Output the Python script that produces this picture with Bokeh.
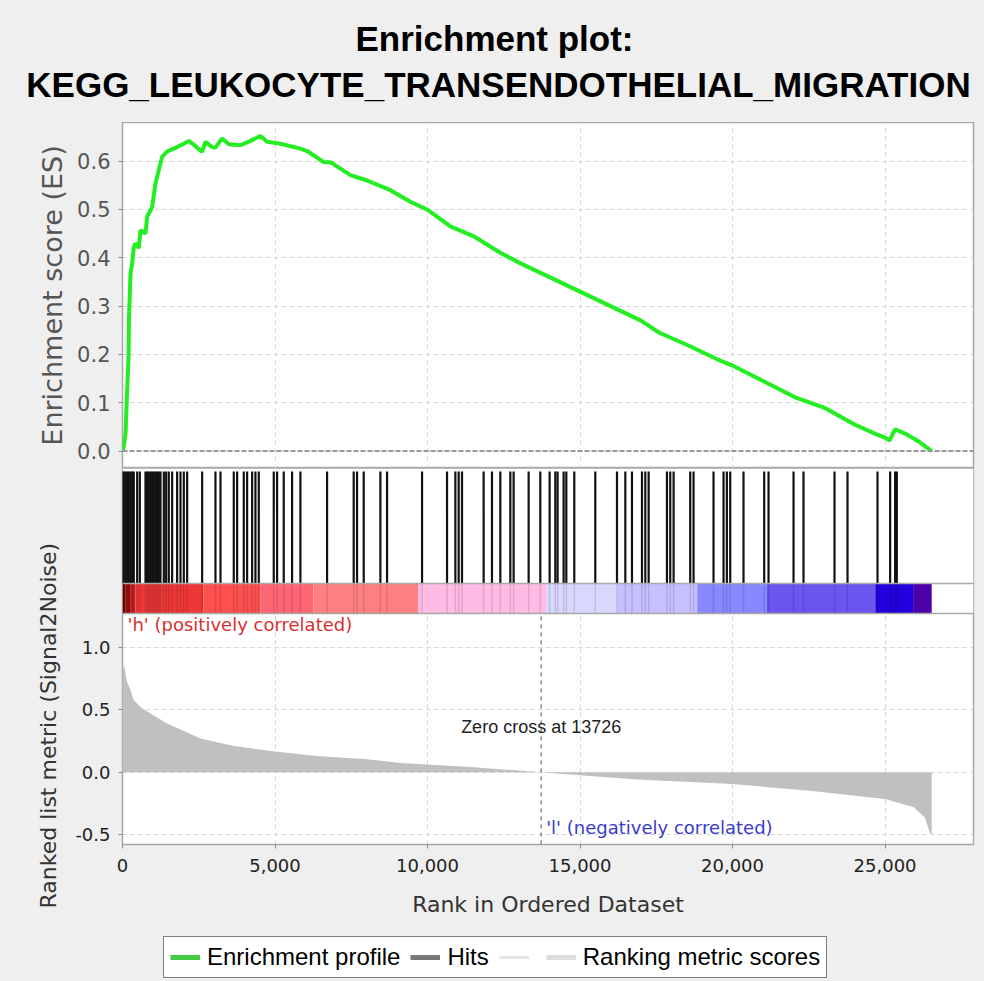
from bokeh.plotting import figure
from bokeh.models import (Span, Label, Title, Legend, LegendItem, NumeralTickFormatter,
                          FixedTicker, Range1d)
from bokeh.layouts import column
from bokeh.embed import file_html
from bokeh.resources import INLINE

# ---------------- data ----------------
N_GENES = 26530
ZERO_CROSS = 13726
X_MAX = 27900
GENE_SET = "KEGG_LEUKOCYTE_TRANSENDOTHELIAL_MIGRATION"

es_rank = [0, 43, 100, 131, 200, 210, 262, 317, 371, 426, 535, 590, 754, 808, 972,
           1081, 1190, 1300, 1463, 1681, 2010, 2174, 2392, 2611, 2720, 2939, 3048,
           3267, 3485, 3867, 4195, 4523, 4742, 5178, 5833, 6052, 6598, 6816, 7472,
           8018, 8782, 9437, 9985, 10750, 11500, 12400, 13000, 14000, 15000, 16000,
           17000, 17600, 18500, 19500, 20000, 21000, 22100, 23000, 24000, 24700,
           25000, 25150, 25330, 25700, 26100, 26530]
es_value = [0.0, 0.01, 0.036, 0.091, 0.20, 0.27, 0.367, 0.388, 0.422, 0.43, 0.42,
            0.457, 0.45, 0.485, 0.505, 0.554, 0.581, 0.609, 0.62, 0.626, 0.636,
            0.642, 0.631, 0.619, 0.64, 0.629, 0.628, 0.647, 0.635, 0.633, 0.642,
            0.652, 0.64, 0.636, 0.626, 0.621, 0.598, 0.598, 0.571, 0.56, 0.54,
            0.516, 0.5, 0.465, 0.445, 0.41, 0.39, 0.36, 0.33, 0.30, 0.27, 0.245,
            0.22, 0.19, 0.177, 0.145, 0.11, 0.09, 0.055, 0.035, 0.028, 0.022,
            0.045, 0.035, 0.02, 0.0]

hit_rank = [10, 43, 98, 153, 207, 262, 317, 370, 481, 568, 754, 808, 863, 918, 972,
            1027, 1081, 1136, 1191, 1245, 1355, 1431, 1518, 1627, 1791, 1901, 2010,
            2119, 2611, 3048, 3212, 3648, 3758, 3976, 4086, 4250, 4358, 4468, 4959,
            5068, 5286, 5560, 5833, 6707, 7580, 7690, 7908, 8455, 8673, 9821, 10640,
            10913, 11022, 11131, 11840, 12113, 12387, 12715, 12823, 13315, 13698,
            14003, 14190, 14265, 14462, 14550, 14812, 15500, 16212, 16485, 16703,
            17031, 17140, 17250, 17850, 17958, 18068, 18613, 18722, 19377, 19705,
            19814, 19924, 20360, 21038, 21180, 22000, 22327, 23343, 23770, 24753,
            25167, 25331, 25386]

metric_rank = [0, 60, 150, 262, 360, 600, 918, 1463, 2556, 3650, 5000, 6380, 8020,
               9110, 11300, 13726, 15195, 17024, 20000, 22524, 25000, 25940, 26300,
               26480, 26530]
metric_value = [0.86, 0.84, 0.72, 0.66, 0.58, 0.52, 0.47, 0.39, 0.27, 0.21, 0.167,
                0.13, 0.105, 0.075, 0.045, 0.0, -0.027, -0.06, -0.094, -0.147,
                -0.214, -0.28, -0.36, -0.49, -0.5]

bar_start = [0, 100, 250, 430, 2650, 4520, 6260, 9700, 13900, 16220, 18840, 21130,
             24680, 25920]
bar_end = [100, 250, 430, 2650, 4520, 6260, 9700, 13900, 16220, 18840, 21130, 24680,
           25920, 26530]
bar_color = ["#7a0000", "#a01010", "#cc2020", "#ee3838", "#ff5050", "#ff6673",
             "#ff8080", "#ffbbe4", "#d8d8ff", "#c6c0ff", "#8888ff", "#6a55ee",
             "#2200dd", "#4b00aa"]

x_ticks = [0, 5000, 10000, 15000, 20000, 25000]
es_ticks = [0.0, 0.1, 0.2, 0.3, 0.4, 0.5, 0.6]
metric_ticks = [-0.5, 0.0, 0.5, 1.0]

legend_labels = ["Enrichment profile", "Hits", "", "Ranking metric scores"]
legend_colors = ["#44cc44", "#777777", "#e4e4e4", "#dddddd"]

# ---------------- layout constants ----------------
BG = "#efefef"
FONT = "DejaVu Sans"
AFONT = "Liberation Sans"
GRID = "#d2d2d2"
FRAME = "#a8a8a8"
W = 984
FW = 851
LEFT = 122
RIGHT = 11
TITLE_PX = 122
ES_PX = 346
HITS_PX = 145
METRIC_PX = 231
AXIS_PX = 86
LEGEND_PX = 51
BAR_TOP = 0.207      # colour bar share of the hits panel
ES_LO, ES_HI = -0.036, 0.68
METRIC_LO, METRIC_HI = -0.577, 1.27

xr = Range1d(0, X_MAX)


def blank_fig(fw, fh, left=0):
    p = figure(frame_width=fw, frame_height=fh, x_range=Range1d(0, fw),
               y_range=Range1d(0, fh), x_axis_location=None, y_axis_location=None,
               output_backend="svg", toolbar_location=None, min_border_left=left,
               min_border_right=0, min_border_top=0, min_border_bottom=0,
               border_fill_color=BG, background_fill_color=BG, outline_line_color=None)
    p.xgrid.visible = False
    p.ygrid.visible = False
    p.frame_align = False
    return p


def style_axis(ax, size, color):
    ax.major_label_text_font = FONT
    ax.major_label_text_font_size = size
    ax.major_label_text_color = color
    ax.major_label_standoff = 8
    ax.axis_line_color = None
    ax.major_tick_out = 4
    ax.major_tick_in = 0
    ax.major_tick_line_color = "#888888"
    ax.minor_tick_line_color = None
    ax.axis_label_text_font = FONT
    ax.axis_label_text_font_style = "normal"


def style_grid(p, yticks):
    p.xgrid.ticker = FixedTicker(ticks=x_ticks)
    p.ygrid.ticker = FixedTicker(ticks=yticks)
    for g in (p.xgrid, p.ygrid):
        g.grid_line_color = GRID
        g.grid_line_dash = "4 4"
        g.grid_line_width = 1


# ---------- title strip ----------
p0 = blank_fig(W, TITLE_PX)
p0.add_layout(Label(x=494, y=TITLE_PX - 52 + 14, text="Enrichment plot:",
                    text_font=AFONT, text_font_size="35px", text_font_style="bold",
                    text_color="black", text_align="center",
                    text_baseline="alphabetic"))
p0.add_layout(Label(x=498, y=TITLE_PX - 98 + 14, text=GENE_SET,
                    text_font=AFONT, text_font_size="35px", text_font_style="bold",
                    text_color="black", text_align="center",
                    text_baseline="alphabetic"))

# ---------- ES panel ----------
p1 = figure(frame_width=FW, frame_height=ES_PX, x_range=xr,
            y_range=Range1d(ES_LO, ES_HI), x_axis_location=None,
            output_backend="svg", toolbar_location=None,
            min_border_left=LEFT, min_border_right=RIGHT, min_border_top=0,
            min_border_bottom=0, border_fill_color=BG, background_fill_color="white",
            outline_line_color=FRAME, outline_line_width=1.5)
style_grid(p1, es_ticks)
ya = p1.yaxis[0]
style_axis(ya, "21px", "#555555")
ya.ticker = FixedTicker(ticks=es_ticks)
ya.formatter = NumeralTickFormatter(format="0.0")
ya.axis_label = "Enrichment score (ES)"
ya.axis_label_text_font_size = "27px"
ya.axis_label_text_color = "#555555"
ya.axis_label_standoff = 6

p1.add_layout(Span(location=0, dimension="width", line_color="#999999",
                   line_width=2, line_dash="5 2"))
es_line = p1.line(es_rank, es_value, line_color="#22ee22", line_width=4)

# ---------- hits + ranked metric panel (one canvas) ----------
m_per_px = (METRIC_HI - METRIC_LO) / METRIC_PX
p2 = figure(frame_width=FW, frame_height=HITS_PX + METRIC_PX, x_range=xr,
            y_range=Range1d(METRIC_LO, METRIC_LO + (HITS_PX + METRIC_PX) * m_per_px),
            output_backend="svg", toolbar_location=None,
            min_border_left=LEFT, min_border_right=RIGHT, min_border_top=0,
            min_border_bottom=AXIS_PX, border_fill_color=BG,
            background_fill_color="white", outline_line_color=FRAME,
            outline_line_width=1.5)
p2.extra_y_ranges = {"hits": Range1d(-METRIC_PX / HITS_PX, 1.0)}
style_grid(p2, metric_ticks)

# ranked list metric
p2.varea(x=metric_rank, y1=0, y2=metric_value, fill_color="#c0c0c0")
p2.segment(x0=[ZERO_CROSS], y0=[METRIC_LO], x1=[ZERO_CROSS], y1=[METRIC_HI],
           line_color="#888888", line_dash="4 4", line_width=1.5)

# hits panel (white cover hides the grid there)
p2.quad(left=0, right=X_MAX, bottom=0, top=1, fill_color="white", line_color=None,
        y_range_name="hits")
p2.quad(left=bar_start, right=bar_end, bottom=0, top=BAR_TOP, fill_color=bar_color,
        line_color=None, y_range_name="hits")
p2.segment(x0=hit_rank, y0=0, x1=hit_rank, y1=BAR_TOP, line_color="black",
           line_alpha=0.12, line_width=1.5, y_range_name="hits")
p2.segment(x0=hit_rank, y0=BAR_TOP, x1=hit_rank, y1=0.979, line_color="#111111",
           line_width=2.2, y_range_name="hits")
p2.add_layout(Span(location=BAR_TOP, dimension="width", line_color=FRAME,
                   line_width=1.5, y_range_name="hits"))
p2.add_layout(Span(location=0, dimension="width", line_color=FRAME,
                   line_width=1.5, y_range_name="hits"))

ya2 = p2.yaxis[0]
style_axis(ya2, "18px", "#222222")
ya2.ticker = FixedTicker(ticks=metric_ticks)
ya2.formatter = NumeralTickFormatter(format="0.0")

# y label of the ranked-metric panel, starting below the panel like the original
p2.add_layout(Title(text="Ranked list metric (Signal2Noise)", align="left",
                    offset=-64, standoff=24, text_font=FONT, text_font_size="22px",
                    text_font_style="normal", text_color="#333333"), "left")

xa = p2.xaxis[0]
style_axis(xa, "18px", "#222222")
xa.ticker = FixedTicker(ticks=x_ticks)
xa.formatter = NumeralTickFormatter(format="0,0")
xa.major_label_standoff = 10
xa.axis_label = "Rank in Ordered Dataset"
xa.axis_label_text_font_size = "22px"
xa.axis_label_text_color = "#333333"
xa.axis_label_standoff = 17

p2.add_layout(Label(x=0, y=1.18, x_offset=5, text="'h' (positively correlated)",
                    text_color="#d83030", text_font=FONT, text_font_size="18px",
                    text_baseline="middle"))
p2.add_layout(Label(x=ZERO_CROSS, y=-0.44, x_offset=5,
                    text="'l' (negatively correlated)", text_color="#3a3acc",
                    text_font=FONT, text_font_size="18px", text_baseline="middle"))
p2.add_layout(Label(x=ZERO_CROSS, y=0.363, text="Zero cross at %d" % ZERO_CROSS,
                    text_color="#222222", text_font=AFONT, text_font_size="18px",
                    text_align="center", text_baseline="middle"))

# ---------- legend strip ----------
p3 = blank_fig(W - LEFT, LEGEND_PX, left=LEFT)
items = []
for lab, col in zip(legend_labels, legend_colors):
    r = p3.line(x=[0], y=[0], line_color=col, line_width=5 if lab else 3)
    items.append(LegendItem(label=lab, renderers=[r]))
legend = Legend(items=items, orientation="horizontal", location=(41, 3),
                border_line_color="black", border_line_width=1.5,
                background_fill_color="white", background_fill_alpha=1,
                label_text_font=AFONT, label_text_font_size="24px",
                label_text_color="black", glyph_width=30, glyph_height=20,
                label_width=0, label_standoff=7, spacing=10, padding=6)
p3.add_layout(legend)

layout = column(p0, p1, p2, p3, spacing=0, styles={"background-color": BG})
open("out.html", "w").write(file_html(layout, INLINE))
